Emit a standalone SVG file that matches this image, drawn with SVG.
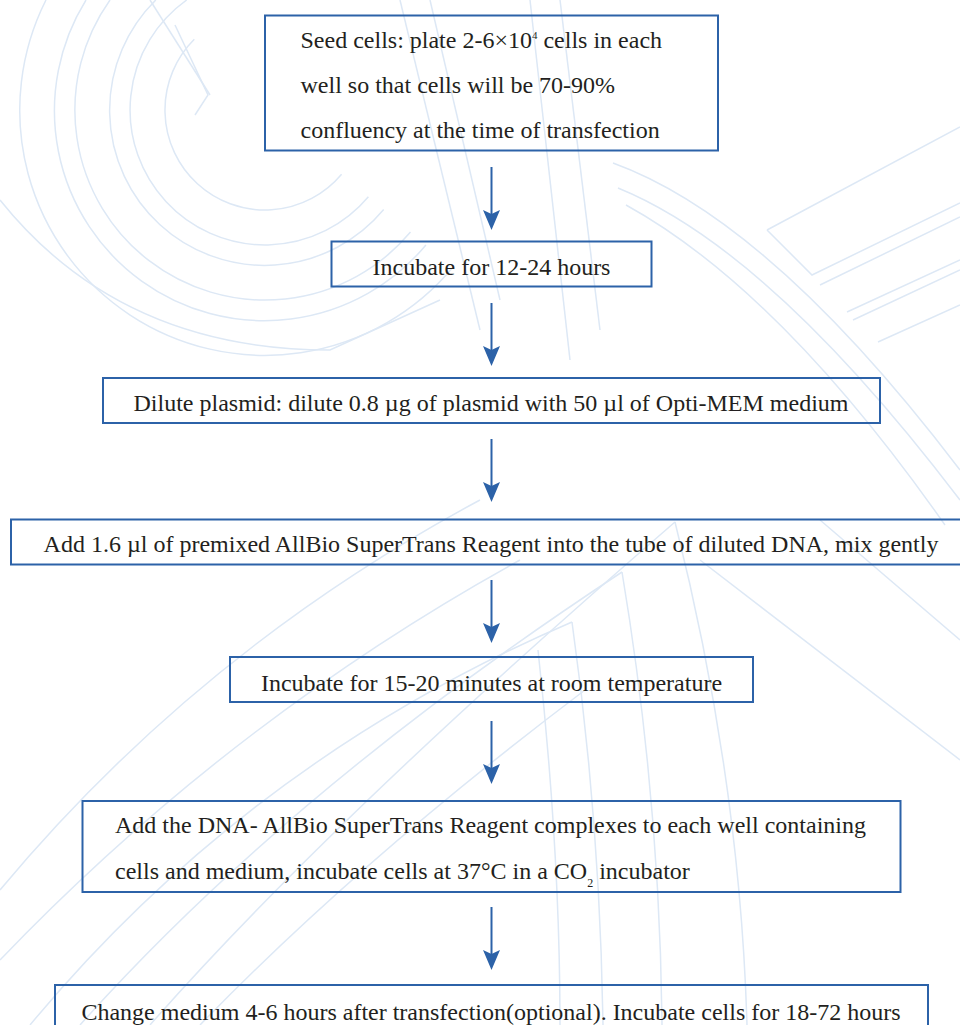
<svg xmlns="http://www.w3.org/2000/svg" width="960" height="1025" viewBox="0 0 960 1025">
  <style>
    .wm { fill: none; stroke: #dde8f5; stroke-width: 1.5; }
    .box { fill: none; stroke: #2c62a8; stroke-width: 2; }
    .lbl { font-family: "Liberation Serif", "Times New Roman", serif; font-size: 24px; fill: #231f20; }
    .mid { text-anchor: middle; }
    .conn { stroke: #2c62a8; stroke-width: 2; fill: none; marker-end: url(#arrow); }
  </style>
  <defs>
    <marker id="arrow" markerUnits="userSpaceOnUse" viewBox="-11 -10 22 20" refX="0" refY="0" markerWidth="22" markerHeight="20" orient="auto">
      <path d="M10,0 L-10,-8.5 L-6,0 L-10,8.5 Z" fill="#2c62a8"/>
    </marker>
  </defs>
  <rect width="960" height="1025" fill="#ffffff"/>
  <g id="watermark" class="wm">
    <path d="M46,0 A245,245 0 0 0 452.7,267.5"/>
    <path d="M86,0 A210,210 0 0 0 425.9,245"/>
    <path d="M110,0 A190,190 0 0 0 410.5,232.1"/>
    <path d="M155.8,0 A155,155 0 1 0 383.7,209.6"/>
    <path d="M186.7,0 A135,135 0 1 0 368.4,196.8"/>
    <path d="M194.3,39.3 A100,100 0 1 0 341.6,174.3"/>
    <path d="M0,200 Q120,350 330,350 L440,300"/>
    <path d="M150,0 L210,95"/>
    <path d="M175,25 L208,95 L195,115"/>
    <path d="M400,0 L480,330"/>
    <path d="M430,0 L500,300"/>
    <path d="M530,0 L570,360"/>
    <path d="M560,0 L600,330"/>
    <path d="M767,230 L960,127"/>
    <path d="M767,230 L812,275 L960,203"/>
    <path d="M820,285 L960,217"/>
    <path d="M847,312 L960,260"/>
    <path d="M853,320 L960,270"/>
    <path d="M878,342 L960,305"/>
    <path d="M613,163 Q770,220 960,470"/>
    <path d="M618,188 Q770,250 960,500"/>
    <path d="M626,205 Q780,290 945,525"/>
    <path d="M0,890 Q200,650 480,500"/>
    <path d="M0,960 Q230,720 520,560"/>
    <path d="M30,1025 Q250,760 572,622"/>
    <path d="M80,1025 Q290,790 622,572"/>
    <path d="M150,1025 Q330,820 675,522"/>
    <path d="M200,1025 Q360,860 585,690"/>
    <path d="M572,622 Q600,820 603,1025"/>
    <path d="M622,572 Q660,800 662,1025"/>
    <path d="M675,522 Q740,780 747,1025"/>
    <path d="M538,650 Q560,850 560,1025"/>
    <path d="M700,560 L960,760"/>
    <path d="M820,520 L960,640"/>
  </g>
  <g id="connectors">
    <line class="conn" x1="491.5" y1="167" x2="491.5" y2="220"/>
    <line class="conn" x1="491.5" y1="303" x2="491.5" y2="356"/>
    <line class="conn" x1="491.5" y1="439" x2="491.5" y2="492"/>
    <line class="conn" x1="491.5" y1="580" x2="491.5" y2="633"/>
    <line class="conn" x1="491.5" y1="721" x2="491.5" y2="774"/>
    <line class="conn" x1="491.5" y1="907" x2="491.5" y2="960"/>
  </g>
  <g id="node-seed">
    <rect class="box" x="265" y="15.5" width="453" height="135"/>
    <text class="lbl" x="300.5" y="48">Seed cells: plate 2-6×10<tspan font-size="11" dy="-9">4</tspan><tspan dy="9"> cells in each</tspan></text>
    <text class="lbl" x="300.5" y="93">well so that cells will be 70-90%</text>
    <text class="lbl" x="300.5" y="138">confluency at the time of transfection</text>
  </g>
  <g id="node-incubate1">
    <rect class="box" x="331.5" y="241.5" width="320" height="45"/>
    <text class="lbl mid" x="491.5" y="275">Incubate for 12-24 hours</text>
  </g>
  <g id="node-dilute">
    <rect class="box" x="103" y="378" width="777" height="45"/>
    <text class="lbl mid" x="491" y="411">Dilute plasmid: dilute 0.8 µg of plasmid with 50 µl of Opti-MEM medium</text>
  </g>
  <g id="node-add-reagent">
    <rect class="box" x="11" y="519.5" width="962" height="45"/>
    <text class="lbl mid" x="491" y="552">Add 1.6 µl of premixed AllBio SuperTrans Reagent into the tube of diluted DNA, mix gently</text>
  </g>
  <g id="node-incubate2">
    <rect class="box" x="230" y="657" width="523" height="45"/>
    <text class="lbl mid" x="491.5" y="691">Incubate for 15-20 minutes at room temperature</text>
  </g>
  <g id="node-add-complexes">
    <rect class="box" x="82.5" y="801" width="818" height="91"/>
    <text class="lbl" x="115" y="833">Add the DNA- AllBio SuperTrans Reagent complexes to each well containing</text>
    <text class="lbl" x="115" y="879">cells and medium, incubate cells at 37°C in a CO<tspan font-size="12" dy="8">2</tspan><tspan dy="-8"> incubator</tspan></text>
  </g>
  <g id="node-change-medium">
    <rect class="box" x="55" y="985" width="873" height="60"/>
    <text class="lbl mid" x="491" y="1020">Change medium 4-6 hours after transfection(optional). Incubate cells for 18-72 hours</text>
  </g>
</svg>
